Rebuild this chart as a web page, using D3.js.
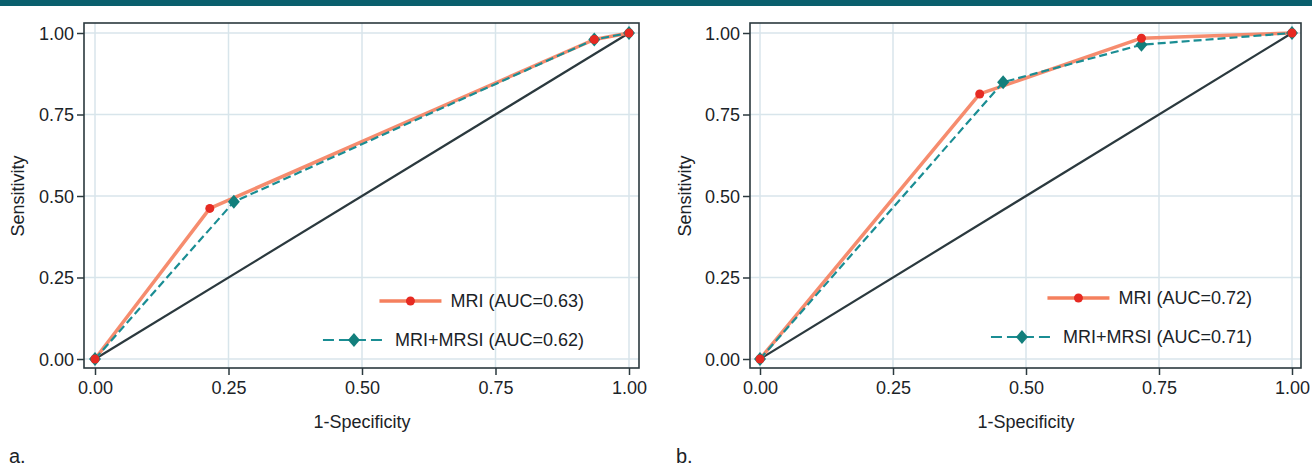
<!DOCTYPE html>
<html><head><meta charset="utf-8">
<script src="https://cdn.jsdelivr.net/npm/d3@7/dist/d3.min.js"></script>
<style>
html,body{margin:0;padding:0;background:#fff;}
svg{display:block;}
text{font-family:"Liberation Sans",Arial,Helvetica,sans-serif;fill:#1b2327;}
</style></head>
<body>
<svg id="c" width="1312" height="466"></svg>
<script>
// ---- data ----
const ticks = [0, 0.25, 0.5, 0.75, 1];
const tickLabels = ["0.00", "0.25", "0.50", "0.75", "1.00"];
const seriesNames = ["MRI", "MRI+MRSI"];
const panelLetters = ["a.", "b."];
const aucA = ["0.63", "0.62"];
const aucB = ["0.72", "0.71"];
// panel a
const aMriX = [0, 0.215, 0.935, 1];
const aMriY = [0, 0.462, 0.980, 1];
const aMrsiX = [0, 0.26, 0.935, 1];
const aMrsiY = [0, 0.482, 0.980, 1];
// panel b
const bMriX = [0, 0.413, 0.717, 1];
const bMriY = [0, 0.813, 0.984, 1];
const bMrsiX = [0, 0.457, 0.717, 1];
const bMrsiY = [0, 0.849, 0.964, 1];
const refLine = [0, 1];

// ---- layout ----
const svg = d3.select("#c");
svg.append("rect").attr("x",0).attr("y",0).attr("width",1312).attr("height",6).attr("fill","#0a5f6d");

const panels = [
  {fl:84, fr:639, x0:95, x1:629, ytitle:18, letterX:9, legEnd:584,
   data:[[aMriX,aMriY],[aMrsiX,aMrsiY]], auc:aucA},
  {fl:750, fr:1301, x0:760, x1:1292, ytitle:685, letterX:676, legEnd:1252,
   data:[[bMriX,bMriY],[bMrsiX,bMrsiY]], auc:aucB}
];
const ft = 23, fb = 368;
const ORANGE = "#f5805e", RED = "#e62a22", TEAL = "#1a8d93", TEALD = "#127f7c", DARK = "#2b393e", GRID = "#d8e5eb";
const diamondPath = (cx, cy) => `M${cx},${cy-7}L${cx+6},${cy}L${cx},${cy+7}L${cx-6},${cy}Z`;

panels.forEach((p, pi) => {
  const x = d3.scaleLinear().domain([0,1]).range([p.x0, p.x1]);
  const y = d3.scaleLinear().domain([0,1]).range([359, 33]);
  const g = svg.append("g");

  // gridlines
  g.selectAll(".gx").data(ticks).enter().append("line")
    .attr("x1", d=>x(d)).attr("x2", d=>x(d)).attr("y1", ft).attr("y2", fb)
    .attr("stroke", GRID).attr("stroke-width", 1.5);
  g.selectAll(".gy").data(ticks).enter().append("line")
    .attr("x1", p.fl).attr("x2", p.fr).attr("y1", d=>y(d)).attr("y2", d=>y(d))
    .attr("stroke", GRID).attr("stroke-width", 1.5);

  // axes
  const xAxis = d3.axisBottom(x).tickValues(ticks).tickFormat((d,i)=>tickLabels[i]).tickSize(7).tickPadding(6);
  const yAxis = d3.axisLeft(y).tickValues(ticks).tickFormat((d,i)=>tickLabels[i]).tickSize(7).tickPadding(3);
  const gx = g.append("g").attr("transform", `translate(0,${fb})`).call(xAxis);
  const gy = g.append("g").attr("transform", `translate(${p.fl},0)`).call(yAxis);
  [gx, gy].forEach(a => {
    a.select(".domain").remove();
    a.selectAll("line").attr("stroke", DARK).attr("stroke-width", 1.5);
    a.selectAll("text").attr("font-size", 18).attr("fill", "#1b2327")
      .style("font-family", '"Liberation Sans",Arial,sans-serif');
  });
  gy.selectAll("text").attr("dy", "0.36em");

  // frame
  g.append("rect").attr("x", p.fl).attr("y", ft).attr("width", p.fr-p.fl).attr("height", fb-ft)
    .attr("fill","none").attr("stroke", DARK).attr("stroke-width", 1.6);

  // reference diagonal
  g.append("line").attr("x1", x(refLine[0])).attr("y1", y(refLine[0]))
    .attr("x2", x(refLine[1])).attr("y2", y(refLine[1]))
    .attr("stroke", DARK).attr("stroke-width", 2.2);

  const line = d3.line().x(d=>x(d[0])).y(d=>y(d[1]));
  const mri = p.data[0][0].map((v,i)=>[v, p.data[0][1][i]]);
  const mrsi = p.data[1][0].map((v,i)=>[v, p.data[1][1][i]]);

  g.append("path").datum(mri).attr("d", line).attr("fill","none")
    .attr("stroke", ORANGE).attr("stroke-width", 3.5).attr("stroke-linejoin","round").attr("opacity",0.9);
  g.append("path").datum(mrsi).attr("d", line).attr("fill","none")
    .attr("stroke", TEAL).attr("stroke-width", 2.2).attr("stroke-dasharray","8,4");

  g.selectAll(".dm").data(mrsi).enter().append("path")
    .attr("d", d=>diamondPath(x(d[0]), y(d[1])))
    .attr("fill", TEALD);
  g.selectAll(".dt").data(mri).enter().append("circle")
    .attr("cx", d=>x(d[0])).attr("cy", d=>y(d[1])).attr("r", 4.5).attr("fill", RED);

  // legend
  const legY = pi===0 ? [301, 340] : [298, 337];
  seriesNames.forEach((n, si) => {
    const t = g.append("text").attr("x", p.legEnd).attr("y", legY[si]).attr("dy","0.36em")
      .attr("text-anchor","end").attr("font-size", 18).text(`${n} (AUC=${p.auc[si]})`);
    const w = t.node().getComputedTextLength();
    const xs = p.legEnd - w - 9;
    if (si === 0) {
      g.append("line").attr("x1", xs-62).attr("x2", xs).attr("y1", legY[si]).attr("y2", legY[si])
        .attr("stroke", ORANGE).attr("stroke-width", 3.5);
      g.append("circle").attr("cx", xs-31).attr("cy", legY[si]).attr("r", 4.5).attr("fill", RED);
    } else {
      g.append("line").attr("x1", xs-63).attr("x2", xs).attr("y1", legY[si]).attr("y2", legY[si])
        .attr("stroke", TEAL).attr("stroke-width", 2.2).attr("stroke-dasharray","11,5");
      g.append("path").attr("d", diamondPath(xs-32, legY[si])).attr("fill", TEALD);
    }
  });

  // titles
  g.append("text").attr("x", (x(0)+x(1))/2).attr("y", 428).attr("text-anchor","middle")
    .attr("font-size", 18).text("1-Specificity");
  g.append("text").attr("transform", `translate(${p.ytitle + 6},196) rotate(-90)`)
    .attr("text-anchor","middle").attr("font-size", 18).text("Sensitivity");
  g.append("text").attr("x", p.letterX).attr("y", 463).attr("font-size", 20)
    .style("font-family",'"Liberation Sans Narrow","Liberation Sans",Arial,sans-serif')
    .text(panelLetters[pi]);
});
</script>
</body></html>
